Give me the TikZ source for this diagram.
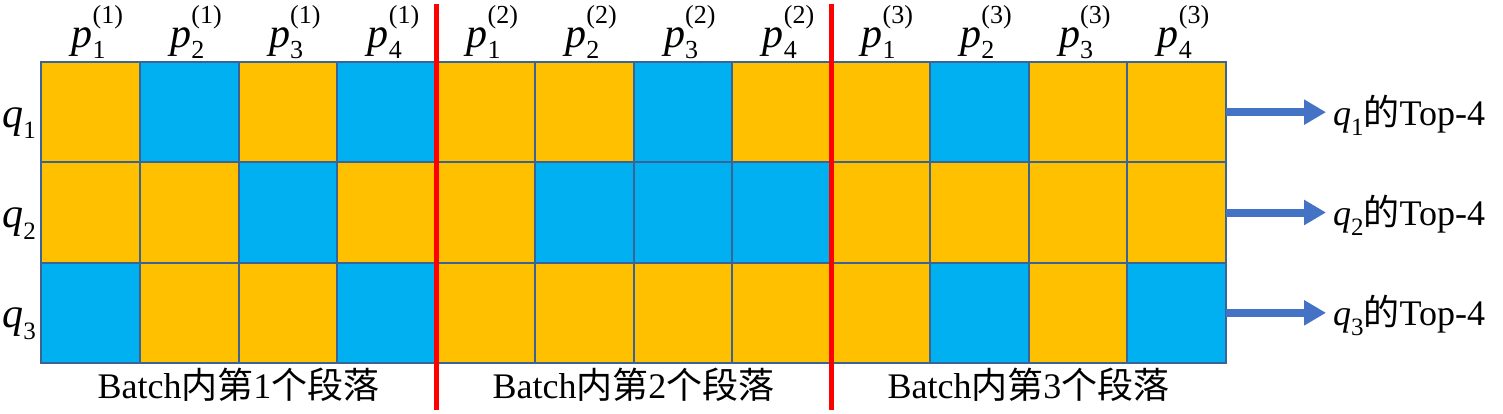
\documentclass[tikz,border=0pt]{standalone}
\usepackage{fontspec}
\setmainfont{Liberation Serif}
\newfontfamily\cjk{Noto Sans CJK SC}
\usetikzlibrary{arrows.meta,positioning}
\definecolor{O}{HTML}{FFC000}
\definecolor{B}{HTML}{00B0F0}
\definecolor{gridline}{HTML}{3B6496}
\definecolor{flowblue}{HTML}{4472C4}
\definecolor{splitred}{HTML}{FF0000}
% italic letter with stacked index and upper mark
\newcommand{\vecsym}[3]{{\itshape #1}\makebox[0pt][l]{\raisebox{-0.28em}{\fontsize{13}{13}\selectfont #2}}\raisebox{0.55em}{\fontsize{13}{13}\selectfont #3}}
\newcommand{\qsym}[1]{{\itshape q}\raisebox{-0.28em}{\fontsize{12.5}{13}\selectfont #1}}

\begin{document}
\begin{tikzpicture}[x=0.5pt,y=-0.5pt,>=Stealth,
  every node/.style={font=\fontsize{19}{22}\selectfont},
  cell/.style={draw=gridline,line width=1pt,fill=#1,minimum width=49.375pt,minimum height=50.17pt,inner sep=0pt,outer sep=0pt},
  flow/.style={draw=flowblue,line width=4pt,-{Triangle[length=11pt,width=12pt]}},
  split/.style={draw=splitred,line width=2.5pt}]
\useasboundingbox (0,0) rectangle (1503,413);
% score grid, B = top-4
\foreach \i/\pat in {1/{O,B,O,B,O,O,B,O,O,B,O,O},
                     2/{O,O,B,O,O,B,B,B,O,O,O,O},
                     3/{B,O,O,B,O,O,O,O,O,B,O,B}}{
  \foreach \c [count=\j] in \pat
    \node[cell=\c] (c-\i-\j) at ({41+98.75*(\j-0.5)},{62+100.33*(\i-0.5)}) {};
}
% passages
\foreach \k in {1,2,3}{
  \foreach \m in {1,...,4}
    \node[anchor=base,font=\fontsize{21}{22}\selectfont] (p-\k-\m) at ({41+98.75*(4*\k+\m-4.5)+7},47) {\vecsym{p}{\m}{(\k)}};
  \node[anchor=base,font=\fontsize{18}{22}\selectfont] (s-\k) at ({41+395*(\k-0.5)},398) {Batch{\cjk 内第}\k{\cjk 个段落}};
}
% queries
\foreach \i in {1,2,3}{
  \node[anchor=base,font=\fontsize{21}{22}\selectfont] (q-\i) at (19,{62+100.33*(\i-0.5)+15}) {\qsym{\i}};
  \node[anchor=base west,font=\fontsize{18}{22}\selectfont] (t-\i) at (1326,{62+100.33*(\i-0.5)+13}) {\qsym{\i}{\cjk 的}Top-4};
  \draw[flow] (c-\i-12.east) -- (t-\i.west |- c-\i-12.east);
}
\draw[split] (436,4) -- (436,410);
\draw[split] (831,4) -- (831,410);
\end{tikzpicture}
\end{document}
